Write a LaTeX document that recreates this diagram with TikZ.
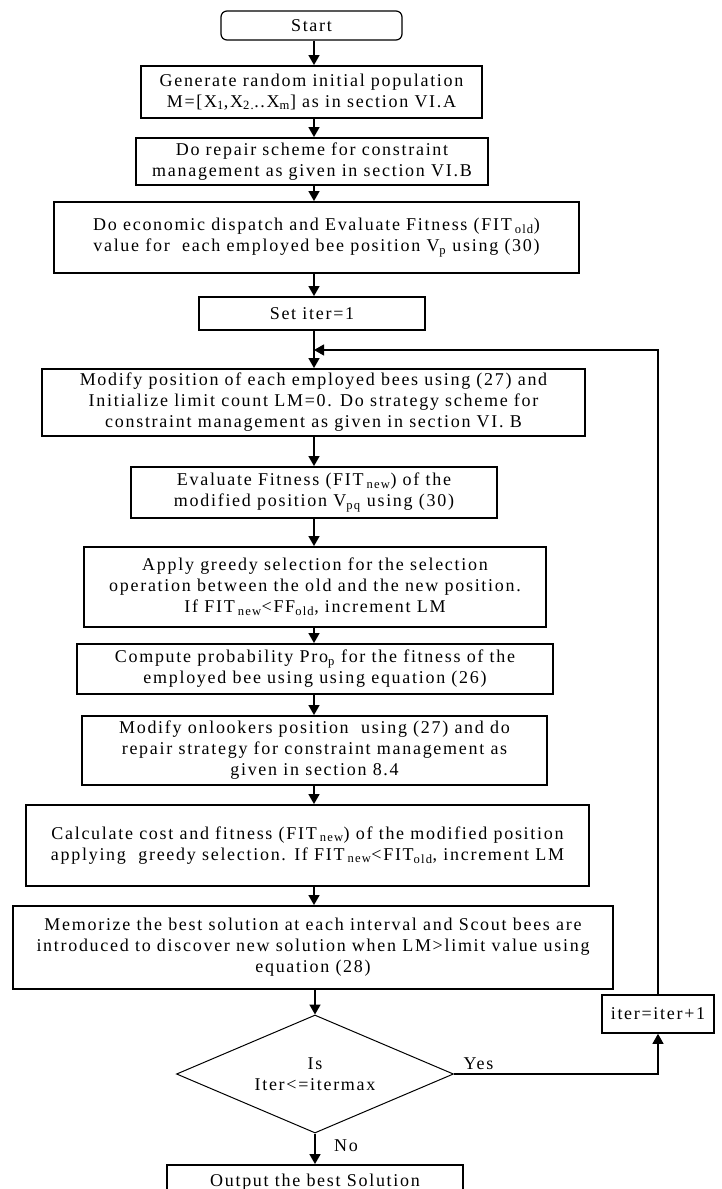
\documentclass[tikz,border=0pt]{standalone}
\usepackage{fontspec}
\setmainfont{Liberation Serif}[LetterSpace=9.5]
\usepackage{tikz}
\usetikzlibrary{arrows.meta,shapes.geometric}

\begin{document}
\begin{tikzpicture}[
  x=1pt, y=-1pt,
  font=\fontsize{18}{21}\selectfont,
  % Process step
  box/.style={rectangle, draw, line width=1.9pt, align=center,
              inner sep=2pt, fill=white},
  % Start terminal
  term/.style={rectangle, draw, line width=1.2pt, rounded corners=6pt,
               align=center, fill=white},
  % Loop test
  dec/.style={diamond, draw, line width=1pt, inner sep=0pt, aspect=2.35,
              align=center},
  arr/.style={-{Triangle[length=10pt,width=11pt]}, line width=1.6pt},
  larr/.style={-{Triangle[length=10pt,width=11pt]}, line width=1.2pt}
]
\useasboundingbox (0,0) rectangle (721,1189);

% ── Initialisation ─────────────────────────────────────────────────────────
\node[term, minimum width=181pt, minimum height=29pt] (start)    at (311.5,25.5) {Start};
\node[box,  minimum width=341pt, minimum height=52pt] (init)     at (311.5,92)
  {Generate random initial population\\M=[X\textsubscript{1},X\textsubscript{2.}..X\textsubscript{m}] as in section VI.A};
\node[box,  minimum width=352pt, minimum height=47pt] (repair)   at (312,161.5)
  {Do repair scheme for constraint\\management as given in section VI.B};
\node[box,  minimum width=525pt, minimum height=71pt] (dispatch) at (316.5,237.5)
  {Do economic dispatch and Evaluate Fitness (FIT\,\textsubscript{old})\\value for \ each employed bee position V\textsubscript{p} using (30)};
\node[box,  minimum width=226pt, minimum height=33pt] (setiter)  at (312,313.5) {Set iter=1};

\coordinate (axis) at (314,0);
\draw[arr] (start.south -| axis)    -- (init.north -| axis);
\draw[arr] (init.south -| axis)     -- (repair.north -| axis);
\draw[arr] (repair.south -| axis)   -- (dispatch.north -| axis);
\draw[arr] (dispatch.south -| axis) -- (setiter.north -| axis);

% ── Employed bee phase ─────────────────────────────────────────────────────
\node[box, minimum width=543pt, minimum height=67pt] (employ)  at (313.5,402.5)
  {Modify position of each employed bees using (27) and\\Initialize limit count LM=0. Do strategy scheme for\\constraint management as given in section VI. B};
\node[box, minimum width=366pt, minimum height=51pt] (evalnew) at (314,492.5)
  {Evaluate Fitness (FIT\,\textsubscript{new}) of the\\modified position V\textsubscript{pq} using (30)};
\node[box, minimum width=462pt, minimum height=80pt] (greedy)  at (315,587)
  {Apply greedy selection for the selection\\operation between the old and the new position.\\If FIT\,\textsubscript{new}<FF\textsubscript{old}, increment LM};

\coordinate (join) at (314,350);
\draw[arr] (setiter.south -| axis) -- (employ.north -| axis);
\draw[arr] (employ.south -| axis)  -- (evalnew.north -| axis);
\draw[arr] (evalnew.south -| axis) -- (greedy.north -| axis);

% ── Onlooker and scout phase ───────────────────────────────────────────────
\node[box, minimum width=476pt, minimum height=50pt] (prob)   at (315,669)
  {Compute probability Pro\textsubscript{p} for the fitness of the\\employed bee using using equation (26)};
\node[box, minimum width=465pt, minimum height=69pt] (onlook) at (314.5,750.5)
  {Modify onlookers position \ using (27) and do\\repair strategy for constraint management as\\given in section 8.4};
\node[box, minimum width=563pt, minimum height=81pt] (calc)   at (307.5,845.5)
  {Calculate cost and fitness (FIT\,\textsubscript{new}) of the modified position\\applying \ greedy selection. If FIT\,\textsubscript{new}<FIT\textsubscript{old}, increment LM};
\node[box, minimum width=600pt, minimum height=83pt] (scout)  at (313,947.5)
  {Memorize the best solution at each interval and Scout bees are\\introduced to discover new solution when LM>limit value using\\equation (28)};

\draw[arr] (greedy.south -| axis) -- (prob.north -| axis);
\draw[arr] (prob.south -| axis)   -- (onlook.north -| axis);
\draw[arr] (onlook.south -| axis) -- (calc.north -| axis);
\draw[arr] (calc.south -| axis)   -- (scout.north -| axis);

% ── Loop test ──────────────────────────────────────────────────────────────
\node[dec, minimum width=277pt, minimum height=118pt] (check) at (315,1074)
  {Is\\Iter<=itermax};
\node[box, minimum width=112pt, minimum height=38pt, line width=1.6pt] (incr) at (658,1014)
  {iter=iter+1};
\node[box, minimum width=296pt, minimum height=34pt] (output) at (315,1182)
  {Output the best Solution};

\draw[arr]  (scout.south -| check.north) -- (check.north);
\draw[larr] (check.east) -| node[pos=0.06, above] {Yes} (incr.south);
\draw[larr] (incr.north) |- (join);   % back to the employed bee phase
\draw[arr]  (check.south) -- node[pos=0.4, right=15pt] {No} (output.north);

\end{tikzpicture}
\end{document}
